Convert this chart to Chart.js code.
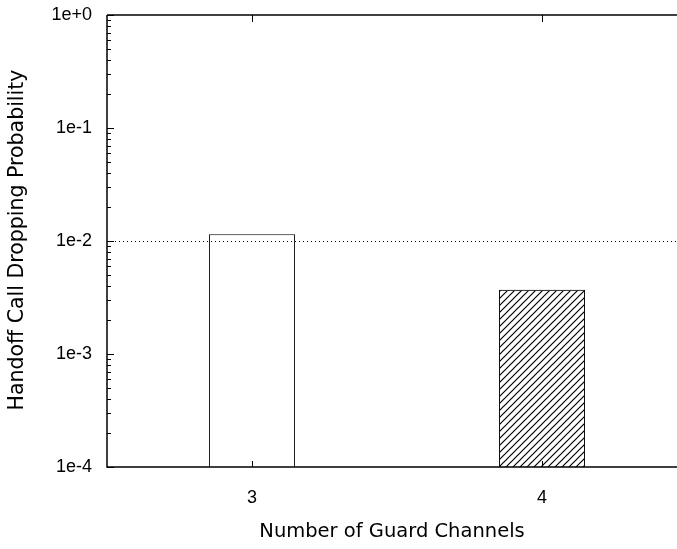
<!DOCTYPE html>
<html>
<head>
<meta charset="utf-8">
<script src="https://cdn.jsdelivr.net/npm/chart.js@4/dist/chart.umd.min.js"></script>
<style>
  html, body { margin: 0; padding: 0; background: #fff; overflow: hidden; }
  #wrap { width: 690px; height: 549px; }
</style>
</head>
<body>
<div id="wrap"><canvas id="c" width="690" height="549"></canvas></div>
<script>
// Guard channel counts and the measured handoff dropping probabilities
const guardChannels = ['3', '4'];
const dropProbability = [0.0115, 0.0037];
const yTickValues = [1e-4, 1e-3, 1e-2, 1e-1, 1];
const yTickLabels = ['1e-4', '1e-3', '1e-2', '1e-1', '1e+0'];
const targetLevel = 0.01;

const xTitle = 'Number of Guard Channels';
const yTitle = 'Handoff Call Dropping Probability';

// diagonal hatch fill for the second bar
function hatchPattern() {
  const s = 7;
  const pc = document.createElement('canvas');
  pc.width = s; pc.height = s;
  const p = pc.getContext('2d');
  p.strokeStyle = '#000';
  p.lineWidth = 1.2;
  p.beginPath();
  p.moveTo(-1, s + 1); p.lineTo(s + 1, -1);
  p.moveTo(-1, 1); p.lineTo(1, -1);
  p.moveTo(s - 1, s + 1); p.lineTo(s + 1, s - 1);
  p.stroke();
  return document.getElementById('c').getContext('2d').createPattern(pc, 'repeat');
}

// frame, inward ticks, reference line and axis titles
const framePlugin = {
  id: 'frame',
  afterDatasetsDraw(chart) {
    const { ctx, chartArea: a, scales: { x, y } } = chart;
    ctx.save();
    // dotted target level
    ctx.strokeStyle = '#000';
    ctx.lineWidth = 1;
    ctx.setLineDash([1, 3]);
    const ty = Math.round(y.getPixelForValue(targetLevel)) + 0.5;
    ctx.beginPath(); ctx.moveTo(a.left, ty); ctx.lineTo(a.right, ty); ctx.stroke();
    ctx.setLineDash([]);

    // top border
    ctx.strokeStyle = '#404040';
    ctx.lineWidth = 2;
    ctx.beginPath(); ctx.moveTo(a.left, a.top); ctx.lineTo(a.right, a.top); ctx.stroke();

    // left and bottom axes
    ctx.strokeStyle = '#000';
    ctx.lineWidth = 1.5;
    ctx.beginPath();
    ctx.moveTo(a.left, a.top); ctx.lineTo(a.left, a.bottom); ctx.lineTo(a.right, a.bottom);
    ctx.stroke();

    // y ticks (major + minor), pointing inward
    ctx.lineWidth = 1;
    ctx.beginPath();
    for (let e = -4; e <= 0; e++) {
      const base = Math.pow(10, e);
      const py = Math.round(y.getPixelForValue(base)) + 0.5;
      ctx.moveTo(a.left, py); ctx.lineTo(a.left + 7, py);
      if (e < 0) {
        for (let m = 2; m <= 9; m++) {
          const my = Math.round(y.getPixelForValue(base * m)) + 0.5;
          ctx.moveTo(a.left, my); ctx.lineTo(a.left + 4, my);
        }
      }
    }
    // x ticks at each category, bottom and top
    guardChannels.forEach((c, i) => {
      const px = Math.round(x.getPixelForValue(i)) + 0.5;
      ctx.moveTo(px, a.bottom); ctx.lineTo(px, a.bottom - 6);
      ctx.moveTo(px, a.top); ctx.lineTo(px, a.top + 7);
    });
    ctx.stroke();

    // axis titles
    ctx.fillStyle = '#000';
    ctx.font = '19.5px "DejaVu Sans"';
    ctx.textAlign = 'center';
    ctx.textBaseline = 'middle';
    ctx.fillText(xTitle, 392, 532);
    ctx.translate(18, 240);
    ctx.rotate(-Math.PI / 2);
    ctx.font = '20.5px "DejaVu Sans"';
    ctx.fillText(yTitle, 0, 0);
    ctx.restore();
  }
};

new Chart(document.getElementById('c'), {
  type: 'bar',
  data: {
    labels: guardChannels,
    datasets: [{
      data: dropProbability,
      backgroundColor: ['#ffffff', hatchPattern()],
      borderColor: '#000',
      borderWidth: 1,
      borderSkipped: 'bottom',
      categoryPercentage: 1,
      barPercentage: 0.297
    }]
  },
  options: {
    responsive: false,
    animation: false,
    devicePixelRatio: 1,
    layout: { padding: { top: 15, right: 3, bottom: 0, left: 0 } },
    plugins: { legend: { display: false }, tooltip: { enabled: false } },
    scales: {
      x: {
        type: 'category',
        offset: true,
        grid: { display: false, drawTicks: false },
        border: { display: false },
        ticks: { color: '#000', padding: 20, font: { family: '"Liberation Sans"', size: 18 } },
        afterFit(s) { s.height = 82; s.paddingLeft = 0; s.paddingRight = 0; }
      },
      y: {
        type: 'logarithmic',
        min: 1e-4,
        max: 1,
        grid: { display: false, drawTicks: false },
        border: { display: false },
        afterBuildTicks(s) { s.ticks = yTickValues.map(v => ({ value: v })); },
        ticks: {
          color: '#000',
          padding: 15,
          font: { family: '"Liberation Sans"', size: 18 },
          callback(v) { const i = yTickValues.indexOf(v); return i >= 0 ? yTickLabels[i] : ''; }
        },
        afterFit(s) { s.width = 107; s.paddingTop = 0; s.paddingBottom = 0; }
      }
    }
  },
  plugins: [framePlugin]
});
</script>
</body>
</html>
